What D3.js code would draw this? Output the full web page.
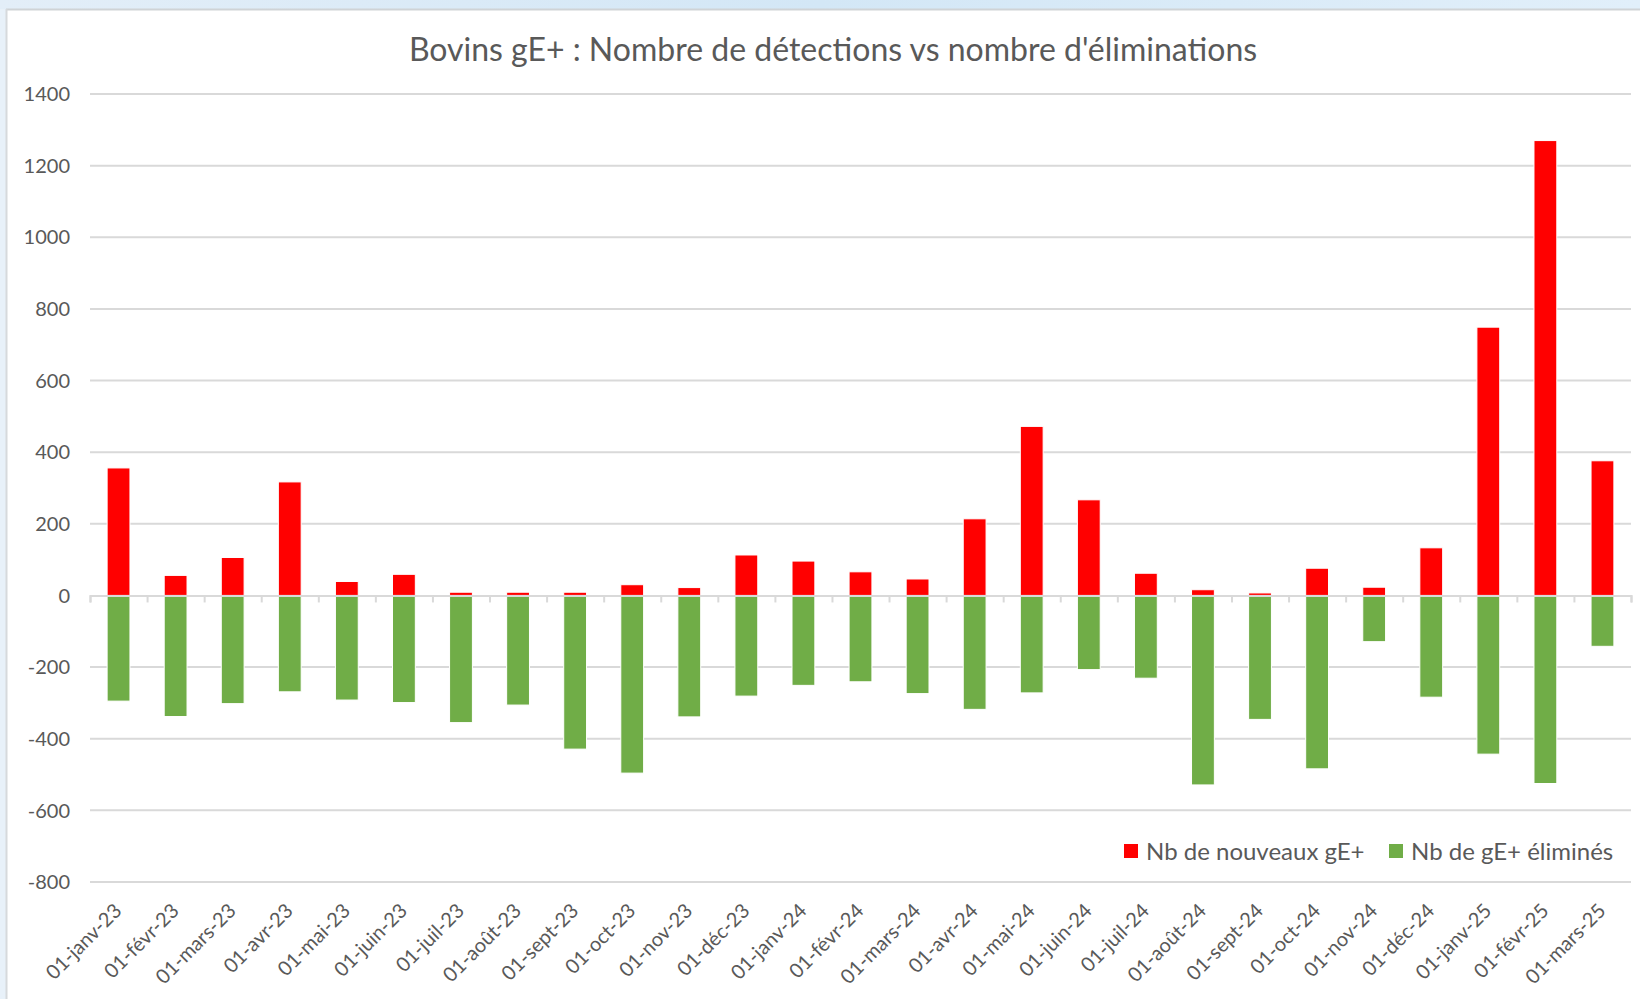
<!DOCTYPE html>
<html>
<head>
<meta charset="utf-8">
<script src="https://cdnjs.cloudflare.com/ajax/libs/d3/7.8.5/d3.min.js"></script>
<style>
	body { margin: 0; background: #fff; }
	text { font-family: Lato, "Open Sans", sans-serif; fill: #595959; }
</style>
</head>
<body>
<div id="chartContainer"></div>
<script>
var width = 1640,
		height = 999;

//  Data
var months = ["01-janv-23", "01-févr-23", "01-mars-23", "01-avr-23", "01-mai-23",
	"01-juin-23", "01-juil-23", "01-août-23", "01-sept-23", "01-oct-23", "01-nov-23",
	"01-déc-23", "01-janv-24", "01-févr-24", "01-mars-24", "01-avr-24", "01-mai-24",
	"01-juin-24", "01-juil-24", "01-août-24", "01-sept-24", "01-oct-24", "01-nov-24",
	"01-déc-24", "01-janv-25", "01-févr-25", "01-mars-25"];
var nouveaux = [356, 56, 106, 317, 39, 59, 9, 9, 9, 30, 22, 113, 96, 66, 46, 214, 472,
	267, 62, 16, 7, 76, 23, 133, 749, 1270, 376];
var elimines = [-295, -338, -302, -269, -292, -299, -355, -306, -429, -496, -339, -281,
	-251, -241, -274, -318, -272, -207, -231, -529, -346, -484, -129, -284, -443, -525, -142];
var yTicks = [-800, -600, -400, -200, 0, 200, 400, 600, 800, 1000, 1200, 1400];
var seriesNames = ["Nb de nouveaux gE+", "Nb de gE+ éliminés"];
var seriesColors = ["#ff0000", "#70ad47"];

var svg = d3.select("#chartContainer").append("svg").attr("width", width)
	.attr("height", height);

//  Window frame bits round the screenshot
var defs = svg.append("defs");
var grad = defs.append("linearGradient").attr("id", "frameGrad")
	.attr("x1", "0").attr("x2", "1").attr("y1", "0").attr("y2", "0");
grad.append("stop").attr("offset", "0").attr("stop-color", "#e3eef8");
grad.append("stop").attr("offset", "0.5").attr("stop-color", "#d3e7f6");
grad.append("stop").attr("offset", "1").attr("stop-color", "#e1effa");

svg.append("rect").attr("width", width).attr("height", height).attr("fill", "#fff");
svg.append("rect").attr("width", width).attr("height", 9).attr("fill", "url(#frameGrad)");
svg.append("rect").attr("y", 9).attr("width", 6).attr("height", height - 9)
	.attr("fill", "#e8f1f9");
svg.append("line").attr("x1", 6).attr("x2", width).attr("y1", 9.5).attr("y2", 9.5)
	.attr("stroke", "#cfd3d6").attr("stroke-width", 2);
svg.append("line").attr("x1", 6.5).attr("x2", 6.5).attr("y1", 9).attr("y2", height)
	.attr("stroke", "#d6d9dc").attr("stroke-width", 2);

//  Scales
var x = d3.scaleBand().domain(months).range([90, 1631])
	.paddingInner(0.6).paddingOuter(0.3);
var y = d3.scaleLinear().domain([-800, 1400]).range([882, 94]);

//  Title
svg.append("text").attr("x", 833).attr("y", 61).attr("text-anchor", "middle")
	.style("font-size", "32px").text("Bovins gE+ : Nombre de détections vs nombre d'éliminations");

//  Gridlines and y labels
var g = svg.append("g");
g.selectAll("line.grid").data(yTicks.filter(function(d) { return d !== 0; }))
	.enter().append("line").attr("class", "grid")
	.attr("x1", 90).attr("x2", 1631)
	.attr("y1", function(d) { return y(d); }).attr("y2", function(d) { return y(d); })
	.attr("stroke", "#d9d9d9").attr("stroke-width", 2);

g.selectAll("text.ylab").data(yTicks).enter().append("text").attr("class", "ylab")
	.attr("x", 70).attr("y", function(d) { return y(d); }).attr("dy", "0.36em")
	.attr("text-anchor", "end").style("font-size", "20px")
	.text(function(d) { return d; });

//  Bars
g.selectAll("rect.pos").data(nouveaux).enter().append("rect").attr("class", "pos")
	.attr("x", function(d, i) { return x(months[i]); })
	.attr("width", x.bandwidth())
	.attr("y", function(d) { return y(d); })
	.attr("height", function(d) { return y(0) - y(d); })
	.attr("fill", seriesColors[0]).attr("stroke", "#fff").attr("stroke-width", 1);

g.selectAll("rect.neg").data(elimines).enter().append("rect").attr("class", "neg")
	.attr("x", function(d, i) { return x(months[i]); })
	.attr("width", x.bandwidth())
	.attr("y", y(0))
	.attr("height", function(d) { return y(d) - y(0); })
	.attr("fill", seriesColors[1]).attr("stroke", "#fff").attr("stroke-width", 1);

//  Zero axis with category tick marks
var axis = d3.axisBottom(d3.scaleLinear().domain([0, months.length]).range([90, 1631]))
	.tickValues(d3.range(months.length + 1)).tickSize(7).tickFormat("");
var ax = svg.append("g").attr("transform", "translate(0," + y(0) + ")").call(axis);
ax.select(".domain").attr("stroke", "#d9d9d9").attr("stroke-width", 2);
ax.selectAll(".tick line").attr("stroke", "#d9d9d9").attr("stroke-width", 2);

//  Rotated month labels
svg.selectAll("text.xlab").data(months).enter().append("text").attr("class", "xlab")
	.attr("transform", function(d) {
		return "translate(" + (x(d) + x.bandwidth() / 2 + 4.5) + ",912)rotate(-45)"; })
	.attr("text-anchor", "end").style("font-size", "20px")
	.text(function(d) { return d; });

//  Legend
var legend = svg.append("g").selectAll("g").data(seriesNames).enter().append("g")
	.attr("transform", function(d, i) { return "translate(" + [1124, 1389][i] + ",844)"; });
legend.append("rect").attr("width", 14).attr("height", 14)
	.attr("fill", function(d, i) { return seriesColors[i]; });
legend.append("text").attr("x", 22).attr("y", 7).attr("dy", "0.36em")
	.style("font-size", "24px").text(function(d) { return d; });
</script>
</body>
</html>
